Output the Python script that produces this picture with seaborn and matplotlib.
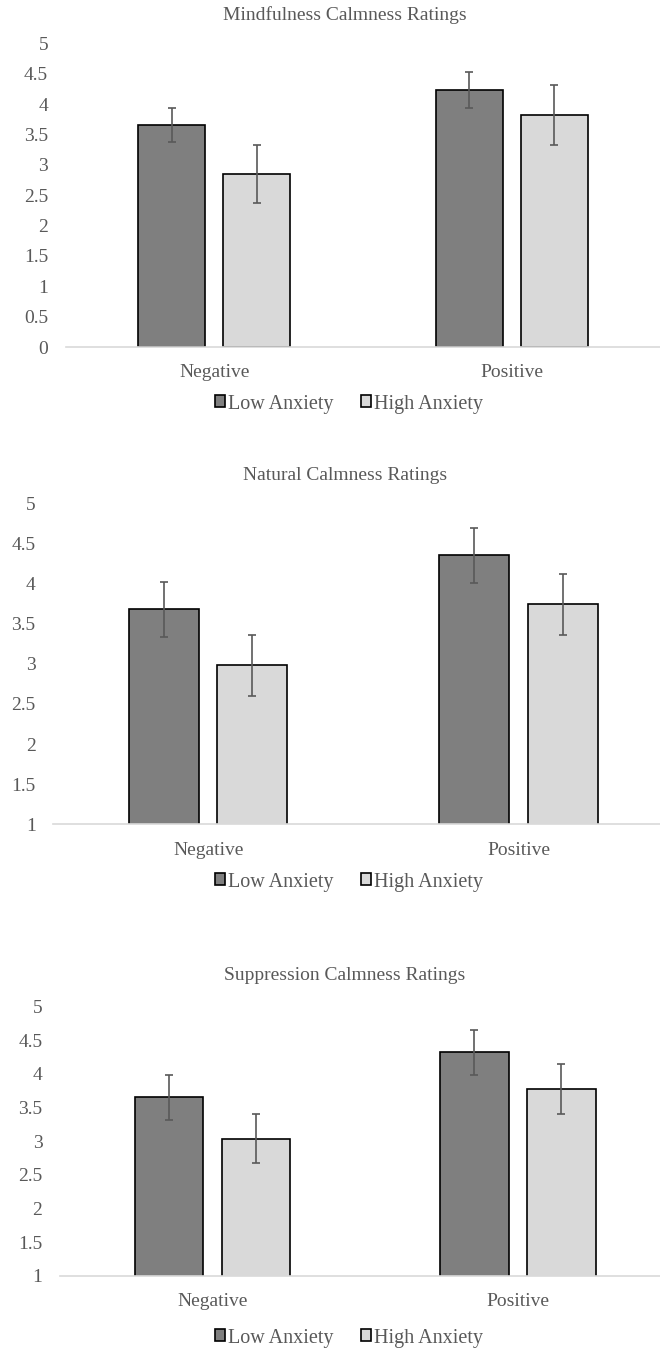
import pandas as pd
import matplotlib.pyplot as plt
import seaborn as sns
from matplotlib.ticker import FuncFormatter

# datos
categorias = ["Negative", "Positive"]
grupos = ["Low Anxiety", "High Anxiety"]

titulos = ["Mindfulness Calmness Ratings", "Natural Calmness Ratings", "Suppression Calmness Ratings"]

mind_low = [3.66, 4.23]
mind_high = [2.85, 3.82]
mind_err_low = [0.28, 0.30]
mind_err_high = [0.48, 0.49]

nat_low = [3.68, 4.35]
nat_high = [2.98, 3.74]
nat_err_low = [0.34, 0.34]
nat_err_high = [0.38, 0.38]

sup_low = [3.65, 4.32]
sup_high = [3.04, 3.78]
sup_err_low = [0.34, 0.34]
sup_err_high = [0.37, 0.37]

y_min = [0, 1, 1]
y_ticks = [[x / 2 for x in range(0, 11)], [x / 2 for x in range(2, 11)], [x / 2 for x in range(2, 11)]]

sns.set_style("white")
plt.rcParams['font.family'] = ['Liberation Serif', 'DejaVu Serif']

gris_texto = '#595959'
colores = ['#7f7f7f', '#d9d9d9']

fig = plt.figure(figsize=(6.6, 13.52), dpi=100)
W, H = 660, 1352

# posicion de cada panel en pixeles: izquierda, y de valor 5, y de valor minimo, ancho de categoria,
# y del titulo, y de la leyenda
paneles = [
    (65.5, 43.5, 347.0, 297.5, 15, 404),
    (53.0, 503.3, 824.3, 310.4, 476, 882),
    (59.8, 1006.7, 1275.7, 305.3, 976, 1338),
]

datos = [
    (mind_low, mind_high, mind_err_low, mind_err_high),
    (nat_low, nat_high, nat_err_low, nat_err_high),
    (sup_low, sup_high, sup_err_low, sup_err_high),
]

for i, (bajo, alto, e_bajo, e_alto) in enumerate(datos):
    izq, y_top, y_bot, paso, y_tit, y_leg = paneles[i]
    ax = fig.add_axes([izq / W, 1 - y_bot / H, (W - izq) / W, (y_bot - y_top) / H])

    df = pd.DataFrame({
        'categoria': categorias * 2,
        'grupo': [grupos[0]] * 2 + [grupos[1]] * 2,
        'valor': bajo + alto,
    })
    sns.barplot(data=df, x='categoria', y='valor', hue='grupo', order=categorias,
                hue_order=grupos, palette=colores, errorbar=None, width=0.57, gap=0.21,
                edgecolor='black', linewidth=1.2, ax=ax, legend=False)

    # barras de error con las posiciones de las barras
    errores = [e_bajo, e_alto]
    for cont, errs in zip(ax.containers, errores):
        xs = [r.get_x() + r.get_width() / 2 for r in cont]
        ys = [r.get_height() for r in cont]
        ax.errorbar(xs, ys, yerr=errs, fmt='none', ecolor=gris_texto, elinewidth=1.2,
                    capsize=2.6, capthick=1.2, zorder=5)

    ax.set_xlim(-0.5, -0.5 + (W - izq) / paso)
    ax.set_ylim(y_min[i], 5)
    ax.set_yticks(y_ticks[i])
    ax.yaxis.set_major_formatter(FuncFormatter(lambda v, p: '{:g}'.format(v)))
    ax.set_xlabel('')
    ax.set_ylabel('')
    ax.tick_params(axis='both', length=0, labelsize=14, labelcolor=gris_texto)
    ax.tick_params(axis='y', pad=12.5)
    ax.tick_params(axis='x', pad=12.5)
    for lado in ['top', 'right', 'left']:
        ax.spines[lado].set_visible(False)
    ax.spines['bottom'].set_color('#d9d9d9')
    ax.spines['bottom'].set_linewidth(1.2)
    ax.spines['bottom'].set_zorder(6)

    fig.text(345 / W, 1 - y_tit / H, titulos[i], ha='center', va='center',
             fontsize=14, color=gris_texto)

    manijas = [cont[0] for cont in ax.containers]
    fig.legend(manijas, grupos, loc='center', bbox_to_anchor=(349 / W, 1 - y_leg / H),
               ncol=2, frameon=False, handlelength=0.5, handleheight=0.55,
               handletextpad=0.12, columnspacing=1.4, fontsize=14.5,
               labelcolor=gris_texto)

plt.savefig('out.png', dpi=100)
